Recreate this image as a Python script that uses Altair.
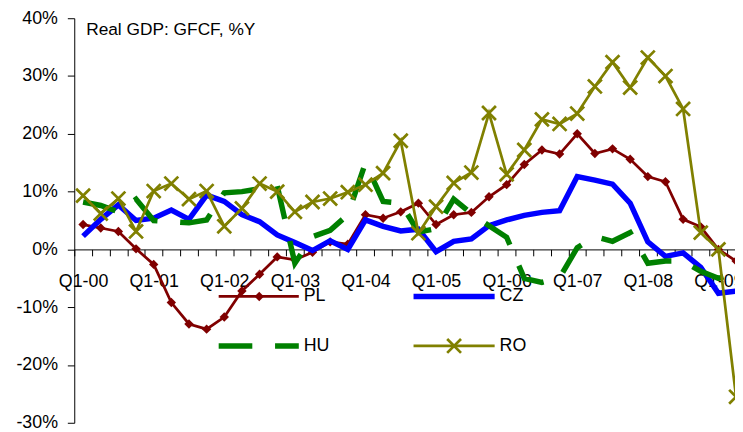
import altair as alt
import pandas as pd

quarters = [
    "Q1-00", "Q2-00", "Q3-00", "Q4-00", "Q1-01", "Q2-01", "Q3-01", "Q4-01",
    "Q1-02", "Q2-02", "Q3-02", "Q4-02", "Q1-03", "Q2-03", "Q3-03", "Q4-03",
    "Q1-04", "Q2-04", "Q3-04", "Q4-04", "Q1-05", "Q2-05", "Q3-05", "Q4-05",
    "Q1-06", "Q2-06", "Q3-06", "Q4-06", "Q1-07", "Q2-07", "Q3-07", "Q4-07",
    "Q1-08", "Q2-08", "Q3-08", "Q4-08", "Q1-09", "Q2-09",
]

pl = [4.3, 3.7, 3.1, 0.1, -2.6, -9.2, -12.9, -13.8,
      -11.7, -7.2, -4.3, -1.3, -1.8, -0.5, 1.3, 0.9,
      6.0, 5.4, 6.5, 8.0, 4.3, 6.0, 6.4, 9.1,
      11.2, 14.7, 17.2, 16.5, 20.0, 16.6, 17.4, 15.6,
      12.6, 11.7, 5.2, 3.9, 0.0, -2.0]

cz = [2.3, 5.2, 7.7, 5.0, 5.4, 6.8, 5.2, 9.4,
      8.3, 6.0, 4.8, 2.5, 1.2, -0.2, 1.5, 0.0,
      5.1, 4.0, 3.2, 3.5, -0.4, 1.4, 1.8, 4.1,
      5.1, 5.9, 6.4, 6.7, 12.6, 12.0, 11.3, 8.0,
      1.3, -1.2, -0.6, -3.1, -7.6, -7.2]

hu = [8.2, 7.6, 6.5, 8.7, 5.0, 4.8, 4.6, 5.1,
      9.8, 10.0, 10.5, 11.0, -2.4, 2.2, 3.3, 6.0,
      15.0, 8.3, 8.0, 3.0, 3.6, 8.7, 6.2, 4.1,
      2.1, -5.0, -5.7, -4.9, 0.3, 2.2, 1.4, 2.9,
      -2.4, -2.0, -2.0, -3.8, -5.0, -4.2]

ro = [9.3, 6.2, 8.8, 3.1, 10.1, 11.4, 8.7, 10.1,
      4.0, 7.1, 11.4, 10.0, 6.5, 8.2, 8.8, 9.9,
      11.2, 13.2, 18.8, 2.8, 7.4, 11.5, 13.3, 23.6,
      13.0, 17.2, 22.5, 21.7, 23.5, 28.2, 32.4, 28.0,
      33.2, 30.0, 24.3, 2.9, 0.0, -25.5]

y_ticks = [-30, -20, -10, 0, 10, 20, 30, 40]
title_text = "Real GDP: GFCF, %Y"

FONT = "Liberation Sans, Arial, sans-serif"
FS = 18
MAROON = "#800000"
BLUE = "#0000FF"
GREEN = "#008000"
OLIVE = "#808000"

W, H = 668, 409

rows = []
for name, vals in (("PL", pl), ("CZ", cz), ("HU", hu), ("RO", ro)):
    for i, (q, v) in enumerate(zip(quarters, vals)):
        rows.append({"idx": i, "quarter": q, "series": name, "value": v})
df = pd.DataFrame(rows)

zero_offset = -(H - 40 / 70 * H)

x_enc = alt.X(
    "idx:Q",
    scale=alt.Scale(domain=[-0.5, 36.94], nice=False, zero=False),
    axis=alt.Axis(
        values=[i - 0.5 for i in range(38)],
        orient="bottom",
        offset=zero_offset,
        grid=False,
        title=None,
        tickSize=6.5,
        tickColor="black",
        domainColor="black",
        labelExpr="(datum.value + 0.5) % 4 == 0 ? 'Q1-' + ((datum.value + 0.5) / 4 < 10 ? '0' : '') + ((datum.value + 0.5) / 4) : ''",
        labelOffset=8.92,
        labelPadding=17,
        labelAngle=0,
        labelBaseline="top",
        labelAlign="center",
        labelFont=FONT,
        labelFontSize=FS,
        labelColor="black",
        labelOverlap=False,
        labelFlush=False,
    ),
)

y_enc = alt.Y(
    "value:Q",
    scale=alt.Scale(domain=[-30, 40], nice=False, zero=False),
    axis=alt.Axis(
        values=y_ticks,
        grid=False,
        title=None,
        tickSize=7,
        tickColor="black",
        domainColor="black",
        labelExpr="datum.value + '%'",
        labelPadding=10,
        labelFont=FONT,
        labelFontSize=FS,
        labelColor="black",
        labelOverlap=False,
        labelFlush=False,
    ),
)

base = alt.Chart(df).encode(x=x_enc, y=y_enc, order="idx:Q")

pl_line = base.transform_filter("datum.series == 'PL'").mark_line(
    color=MAROON, strokeWidth=2.75)
pl_pts = base.transform_filter("datum.series == 'PL'").mark_point(
    shape="diamond", filled=True, size=90, color=MAROON, opacity=1)
cz_line = base.transform_filter("datum.series == 'CZ'").mark_line(
    color=BLUE, strokeWidth=5.5)
hu_line = base.transform_filter("datum.series == 'HU'").mark_line(
    color=GREEN, strokeWidth=5.5, strokeDash=[34, 23], strokeCap="butt")
ro_line = base.transform_filter("datum.series == 'RO'").mark_line(
    color=OLIVE, strokeWidth=2.75)
XSHAPE = "M-1,-1L1,1M-1,1L1,-1"
ro_pts = base.transform_filter("datum.series == 'RO'").mark_point(
    shape=XSHAPE, filled=False, size=196, color=OLIVE, strokeWidth=2.75, opacity=1)

one = alt.Chart(pd.DataFrame({"k": [0]}))

title = one.mark_text(align="left", baseline="alphabetic", font=FONT,
                      fontSize=17.5, color="black").encode(
    x=alt.value(12), y=alt.value(16.5), text=alt.value(title_text))

r1, r2 = 281.3, 331.3


def leg_text(x, y, s):
    return one.mark_text(align="left", baseline="middle", font=FONT,
                         fontSize=FS, color="black").encode(
        x=alt.value(x), y=alt.value(y), text=alt.value(s))


leg = [
    one.mark_rule(color=MAROON, strokeWidth=2.75).encode(
        x=alt.value(146), x2=alt.value(227), y=alt.value(r1)),
    one.mark_point(shape="diamond", filled=True, size=90, color=MAROON, opacity=1).encode(
        x=alt.value(187), y=alt.value(r1)),
    leg_text(232, r1, "PL"),
    one.mark_rule(color=BLUE, strokeWidth=5.5).encode(
        x=alt.value(343), x2=alt.value(425), y=alt.value(r1)),
    leg_text(430, r1, "CZ"),
    one.mark_rule(color=GREEN, strokeWidth=5.5, strokeDash=[34, 23], strokeCap="butt").encode(
        x=alt.value(146), x2=alt.value(227), y=alt.value(r2)),
    leg_text(232, r2, "HU"),
    one.mark_rule(color=OLIVE, strokeWidth=2.75).encode(
        x=alt.value(343), x2=alt.value(425), y=alt.value(r2)),
    one.mark_point(shape=XSHAPE, filled=False, size=196, color=OLIVE, strokeWidth=2.75, opacity=1).encode(
        x=alt.value(384), y=alt.value(r2)),
    leg_text(430, r2, "RO"),
]

chart = alt.layer(
    pl_line, pl_pts, cz_line, hu_line, ro_line, ro_pts, title, *leg
).properties(
    width=W,
    height=H,
    autosize=alt.AutoSizeParams(type="none"),
    padding={"left": 67, "top": 8, "right": 0, "bottom": 8},
    background="white",
).configure_view(stroke=None)

chart.save("out.html", embed_options={"renderer": "svg", "actions": False})
